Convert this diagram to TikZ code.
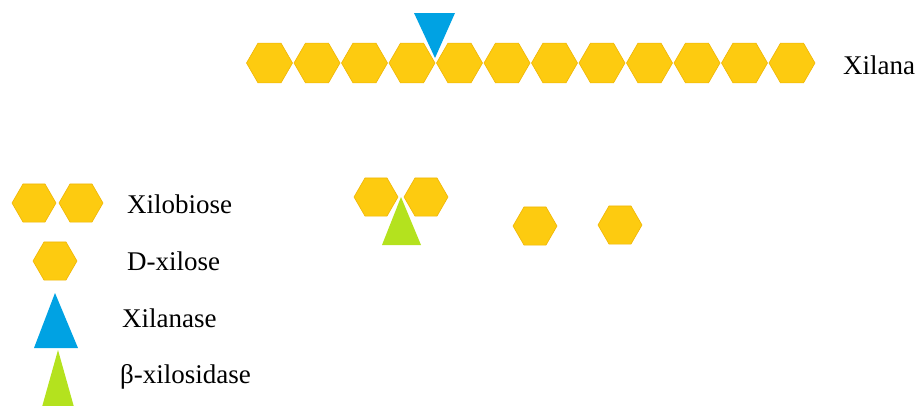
\documentclass[tikz,border=0pt]{standalone}
\usepackage{fontspec}
\setmainfont{Liberation Serif}
\usetikzlibrary{shapes.geometric}
\definecolor{hexfill}{HTML}{FDCB10}
\definecolor{hexline}{HTML}{F0B505}
\definecolor{xblue}{HTML}{00A2E3}
\definecolor{xgreen}{HTML}{B4E21E}
\begin{document}
\begin{tikzpicture}[x=1pt,y=-1pt,
  hexa/.style={regular polygon, regular polygon sides=6, minimum size=46pt, inner sep=0pt, fill=hexfill, draw=hexline, line width=0.6pt},
  hexb/.style={hexa, minimum size=44pt},
  lbl/.style={anchor=base west, inner sep=0pt, font=\fontsize{27}{30}\selectfont}]
\useasboundingbox (0,0) rectangle (920,405);
% chain
\foreach \i in {0,...,11} \node[hexa] (c\i) at ({269.5+47.5*\i},63) {};
\fill[xblue] (414,13) -- (455,13) -- (435,58) -- cycle;
\node[lbl] (tx) at (843,74) {Xilana};
% products
\node[hexb] (p1) at (376,197) {};
\node[hexb] (p2) at (426,197) {};
\fill[xgreen] (401,197) -- (421,245) -- (382,245) -- cycle;
\node[hexb] (s1) at (535,226) {};
\node[hexb] (s2) at (620,225) {};
% legend
\node[hexb] (l1) at (34,203) {};
\node[hexb] (l2) at (81,203) {};
\node[hexb] (l3) at (55,261) {};
\fill[xblue] (55,293) -- (78,348) -- (34,348) -- cycle;
\fill[xgreen] (58,350) -- (74,407) -- (42,407) -- cycle;
\node[lbl] (t1) at (127,213) {Xilobiose};
\node[lbl] (t2) at (127,270) {D-xilose};
\node[lbl] (t3) at (122,327) {Xilanase};
\node[lbl] (t4) at (120,383) {β-xilosidase};
\end{tikzpicture}
\end{document}
